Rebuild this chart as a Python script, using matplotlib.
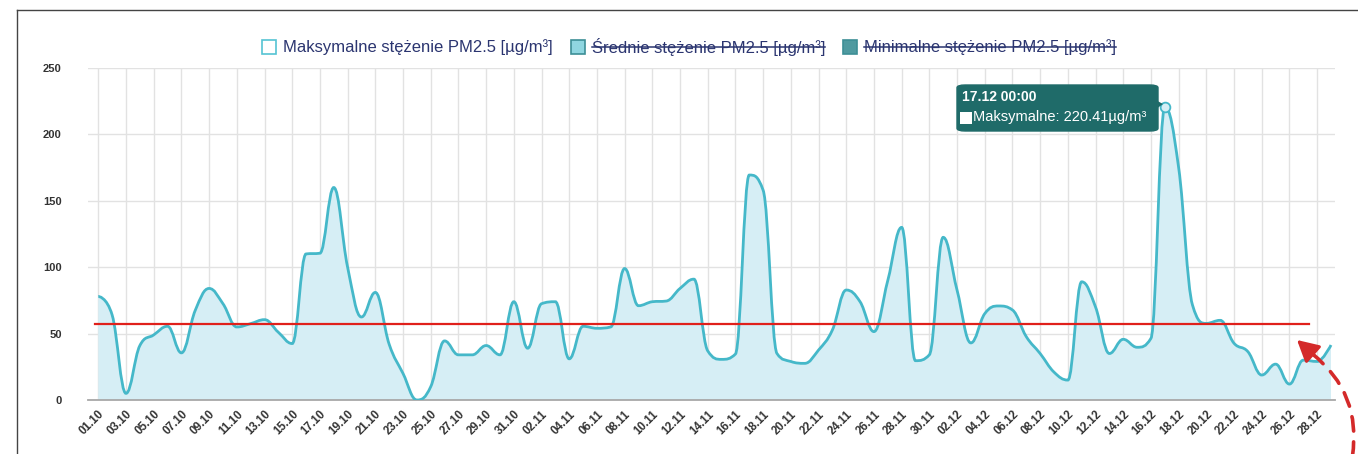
import numpy as np
import pandas as pd
import matplotlib
matplotlib.use("Agg")
import matplotlib.pyplot as plt
from matplotlib.path import Path
from matplotlib.patches import PathPatch, FancyBboxPatch, Rectangle, FancyArrowPatch, Polygon
from matplotlib.lines import Line2D

plt.rcParams['font.family'] = ['Liberation Sans', 'DejaVu Sans']

# ---------------- data ----------------
START_DATE = "2019-10-01"
pm25_max = [
    78, 64, 5, 41, 49, 55.5, 35.5, 67.5, 84, 72.5,
    55, 57.5, 60.5, 51, 42.5, 110, 110.5, 160, 100, 62.5,
    81, 42, 20, 0, 10, 44.5, 34, 34, 41, 34,
    74, 39, 72.5, 74, 31, 55.5, 54, 55, 99, 71,
    74, 74.5, 84, 91, 37, 30.6, 34.6, 169.4, 158, 35,
    29, 27.6, 37.6, 52.7, 82.8, 74, 51.5, 90, 130, 29.6,
    34, 122.5, 82.8, 43, 65, 70.8, 67.8, 47.7, 35, 21,
    15, 89, 70, 35, 45.7, 39.7, 46.4, 220.41, 175, 71.5,
    57.7, 60, 42.7, 36.4, 18.8, 27, 12, 30, 29, 41.4,
]
y_ticks = [0, 50, 100, 150, 200, 250]
limit_value = 57.6
tooltip_day = 77
tooltip_title = "17.12 00:00"
tooltip_label = "Maksymalne: 220.41µg/m³"
legend_labels = [
    "Maksymalne stężenie PM2.5 [µg/m³]",
    "Średnie stężenie PM2.5 [µg/m³]",
    "Minimalne stężenie PM2.5 [µg/m³]",
]
legend_hidden = [False, True, True]
legend_colors = ["#ffffff", "#8fd6e0", "#4f9aa0"]

dates = pd.date_range(START_DATE, periods=len(pm25_max), freq="D")
day_labels = [d.strftime("%d.%m") for d in dates]
x = np.arange(len(pm25_max), dtype=float)
y = np.array(pm25_max, dtype=float)

LINE_C = "#45b8c9"
FILL_C = "#d6eef5"
TEXT_C = "#2b3570"


def spline_path(xs, ys, smoothing=1.5):
    n = len(xs)
    denom = smoothing + 1
    lc = [None] * n
    rc = [None] * n
    for i in range(n):
        px, py = xs[i], ys[i]
        if 0 < i < n - 1:
            lx, ly = xs[i - 1], ys[i - 1]
            nx, ny = xs[i + 1], ys[i + 1]
            lcx = (smoothing * px + lx) / denom
            lcy = (smoothing * py + ly) / denom
            rcx = (smoothing * px + nx) / denom
            rcy = (smoothing * py + ny) / denom
            if rcx != lcx:
                corr = ((rcy - lcy) * (rcx - px)) / (rcx - lcx) + py - rcy
                lcy += corr
                rcy += corr
            if lcy > ly and lcy > py:
                lcy = max(ly, py); rcy = 2 * py - lcy
            elif lcy < ly and lcy < py:
                lcy = min(ly, py); rcy = 2 * py - lcy
            if rcy > ny and rcy > py:
                rcy = max(ny, py); lcy = 2 * py - rcy
            elif rcy < ny and rcy < py:
                rcy = min(ny, py); lcy = 2 * py - rcy
            lc[i] = (lcx, lcy)
            rc[i] = (rcx, rcy)
        else:
            lc[i] = (px, py)
            rc[i] = (px, py)
    verts = [(xs[0], ys[0])]
    codes = [Path.MOVETO]
    for i in range(1, n):
        verts += [rc[i - 1], lc[i], (xs[i], ys[i])]
        codes += [Path.CURVE4] * 3
    return verts, codes


W, H = 1358, 454
fig = plt.figure(figsize=(W / 100, H / 100), dpi=100)
ax = fig.add_axes([88 / W, 54 / H, (1335 - 88) / W, (400 - 68) / H])

px_per_day = (1331 - 98.3) / (len(x) - 1)
ax.set_xlim(-(98.3 - 88) / px_per_day, (1335 - 98.3) / px_per_day)
ax.set_ylim(0, 250)

verts, codes = spline_path(x, y)
fill_verts = verts + [(x[-1], 0), (x[0], 0), (x[0], y[0])]
fill_codes = codes + [Path.LINETO, Path.LINETO, Path.CLOSEPOLY]
ax.add_patch(PathPatch(Path(fill_verts, fill_codes), facecolor=FILL_C, edgecolor="none", zorder=2))
ax.add_patch(PathPatch(Path(verts, codes), facecolor="none", edgecolor=LINE_C, lw=2, zorder=3))

# peak marker
ax.plot([x[tooltip_day]], [y[tooltip_day]], marker="o", ms=7, mfc="#d6eef5", mec=LINE_C, mew=1.3, zorder=4)

# limit line
ax.plot([-0.24, 87.4], [limit_value, limit_value], color="#e0201b", lw=1.6, zorder=5)

ax.set_xticks(x[::2])
ax.set_xticklabels(day_labels[::2], rotation=45, ha="right", rotation_mode="anchor",
                   fontsize=8.3, fontweight="bold", color="#333333")
ax.set_yticks(y_ticks)
ax.set_yticklabels([str(v) for v in y_ticks], fontsize=8, fontweight="bold", color="#333333")
ax.tick_params(axis="x", length=0, pad=6)
ax.tick_params(axis="y", length=0, pad=19)
ax.grid(True, color="#e2e2e2", lw=1)
ax.set_axisbelow(True)
for s in ["top", "right", "left"]:
    ax.spines[s].set_visible(False)
ax.spines["bottom"].set_color("#a8a8a8")
ax.spines["bottom"].set_linewidth(1.3)

# frame of the screenshot
fig.add_artist(Line2D([17 / W, 1.0], [(H - 10) / H, (H - 10) / H], transform=fig.transFigure, color="#444444", lw=1))
fig.add_artist(Line2D([17 / W, 17 / W], [0, (H - 10) / H], transform=fig.transFigure, color="#444444", lw=1))

# legend
renderer = fig.canvas.get_renderer()
leg_sq_x = [262, 571, 843]
leg_y = H - 47
for lx, lab, hidden, col in zip(leg_sq_x, legend_labels, legend_hidden, legend_colors):
    fig.add_artist(Rectangle((lx / W, (leg_y - 7) / H), 14 / W, 14 / H, transform=fig.transFigure,
                             facecolor=col, edgecolor="#55c3d3" if not hidden else "#3d8f96", lw=1.2))
    t = fig.text((lx + 21) / W, leg_y / H, lab, fontsize=12, color=TEXT_C, va="center", ha="left")
    if hidden:
        bb = t.get_window_extent(renderer)
        fig.add_artist(Line2D([bb.x0 / W, bb.x1 / W], [(leg_y) / H, (leg_y) / H],
                              transform=fig.transFigure, color=TEXT_C, lw=1.1))

# tooltip
tx0, tx1, ty0, ty1 = 957, 1158, H - 131, H - 85
fig.add_artist(FancyBboxPatch((tx0 / W, ty0 / H), (tx1 - tx0) / W, (ty1 - ty0) / H,
                              boxstyle="round,pad=0,rounding_size=0.006", transform=fig.transFigure,
                              facecolor="#1f6b69", edgecolor="#1f6b69", zorder=10))
fig.add_artist(Polygon([(1152 / W, (H - 98) / H), (1163 / W, (H - 104) / H), (1152 / W, (H - 112) / H)],
                       closed=True, transform=fig.transFigure, facecolor="#1f6b69", edgecolor="none", zorder=10))
fig.text(962 / W, (H - 97) / H, tooltip_title, fontsize=10, fontweight="bold", color="white", va="center", zorder=11)
fig.add_artist(Rectangle((960 / W, (H - 124) / H), 12 / W, 12 / H, transform=fig.transFigure,
                         facecolor="white", edgecolor="none", zorder=11))
fig.text(973 / W, (H - 117) / H, tooltip_label, fontsize=10.5, color="white", va="center", zorder=11)

# red dashed arrow
fig.add_artist(FancyArrowPatch((1352, -5), (1310, 102), transform=None,
                               connectionstyle="arc3,rad=0.3", arrowstyle="-",
                               color="#d42a2a", lw=2.6, linestyle=(0, (4, 3)), zorder=12))
fig.add_artist(FancyArrowPatch((1314, 99), (1297, 114), transform=None,
                               arrowstyle="-|>,head_length=13,head_width=7",
                               color="#d42a2a", lw=2.2, zorder=12, shrinkA=0, shrinkB=0))

fig.savefig("out.png", dpi=100)
